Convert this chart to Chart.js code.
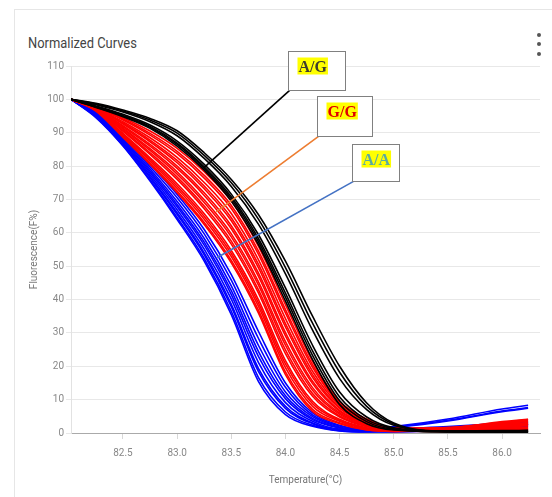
<!DOCTYPE html>
<html>
<head>
<meta charset="utf-8">
<script src="https://cdn.jsdelivr.net/npm/chart.js@4.4.1/dist/chart.umd.min.js"></script>
<style>
  body { margin: 0; background: #fff; width: 552px; height: 497px; overflow: hidden; position: relative; font-family: Roboto, "Open Sans", sans-serif; }
  .card { position: absolute; left: 14px; top: 9px; width: 560px; height: 510px; border: 1px solid #e6e6e6; box-sizing: border-box; }
  .title { position: absolute; left: 28px; top: 33px; font-size: 15px; line-height: 20px; color: #444; transform: scaleX(0.86); transform-origin: left center; white-space: nowrap; }
  .dot { position: absolute; left: 537px; width: 4px; height: 4px; border-radius: 2px; background: #555; }
  #chart { position: absolute; left: 0; top: 0; }
</style>
</head>
<body>
<div class="card"></div>
<div class="title">Normalized Curves</div>
<div class="dot" style="top:33px"></div>
<div class="dot" style="top:42px"></div>
<div class="dot" style="top:52px"></div>
<canvas id="chart" width="552" height="497"></canvas>
<script>
// temperature points shared by every curve
const temps = [82.02, 82.25, 82.5, 82.75, 83.0, 83.25, 83.5, 83.75, 84.0, 84.25, 84.5, 84.75, 85.0, 85.5, 86.0, 86.24];
const xTicks = [82.5, 83.0, 83.5, 84.0, 84.5, 85.0, 85.5, 86.0];

// A/A genotype
const blueCurves = [
  [100, 94.5, 86.0, 75.5, 64.0, 51.5, 35.5, 15.5, 5.5, 2.0, 0.6, 0.3, 0.3, 0.8, 1.6, 2.2],
  [100, 94.7, 86.2, 75.9, 64.6, 52.3, 36.5, 16.7, 6.3, 2.3, 0.7, 0.3, 0.5, 1.0, 2.0, 2.6],
  [100, 94.9, 86.6, 76.5, 65.5, 53.4, 37.9, 18.5, 7.4, 2.8, 0.9, 0.9, 1.6, 3.6, 6.4, 7.4],
  [100, 95.0, 86.8, 76.8, 66.0, 54.0, 38.6, 19.4, 8.0, 3.0, 1.0, 1.0, 1.7, 3.8, 6.6, 7.6],
  [100, 95.3, 87.1, 77.4, 66.9, 55.1, 40.1, 21.2, 9.1, 3.5, 1.2, 1.1, 1.9, 4.2, 7.2, 8.3],
  [100, 95.5, 87.5, 78.0, 67.8, 56.3, 41.5, 23.0, 10.3, 4.0, 1.5, 0.6, 1.0, 1.6, 2.6, 3.2],
  [100, 95.7, 87.8, 78.5, 68.5, 57.2, 42.7, 24.5, 11.2, 4.4, 1.6, 0.6, 1.2, 1.9, 2.9, 3.3],
  [100, 95.9, 88.2, 79.1, 69.4, 58.3, 44.1, 26.3, 12.3, 4.9, 1.8, 0.7, 0.6, 1.2, 2.2, 2.6],
  [100, 96.2, 88.6, 79.8, 70.5, 59.7, 45.8, 28.4, 13.7, 5.4, 2.1, 0.7, 0.5, 0.9, 1.6, 2.0],
  [100, 96.5, 89.0, 80.5, 71.5, 61.0, 47.5, 30.5, 15.0, 6.0, 2.3, 0.8, 0.5, 1.1, 2.1, 2.5]
];

// G/G genotype
const redCurves = [
  [100, 96.5, 88.6, 80.5, 72.0, 62.5, 51.0, 36.0, 17.5, 6.5, 2.8, 0.9, 0.5, 0.6, 1.0, 1.2],
  [100, 96.6, 88.8, 80.9, 72.5, 63.1, 51.7, 36.8, 18.3, 7.1, 3.1, 1.0, 0.5, 1.2, 2.4, 2.9],
  [100, 96.6, 89.2, 81.5, 73.3, 64.1, 52.9, 38.0, 19.6, 8.0, 3.5, 1.2, 0.6, 0.8, 1.4, 1.8],
  [100, 96.7, 89.5, 82.0, 74.0, 64.9, 53.8, 39.0, 20.7, 8.8, 3.8, 1.4, 0.7, 1.5, 3.0, 3.7],
  [100, 96.8, 89.8, 82.5, 74.7, 65.7, 54.7, 40.0, 21.7, 9.5, 4.1, 1.6, 0.7, 0.5, 0.8, 1.0],
  [100, 96.9, 90.4, 83.5, 76.0, 67.2, 56.6, 42.0, 23.8, 11.0, 4.8, 1.9, 0.8, 1.1, 2.2, 2.6],
  [100, 97.0, 90.7, 84.0, 76.7, 68.0, 57.5, 43.0, 24.9, 11.8, 5.1, 2.1, 0.9, 1.6, 3.2, 4.0],
  [100, 97.0, 91.1, 84.7, 77.6, 69.1, 58.8, 44.4, 26.3, 12.8, 5.6, 2.3, 0.9, 0.7, 1.1, 1.4],
  [100, 97.1, 91.4, 85.2, 78.3, 69.9, 59.7, 45.4, 27.4, 13.6, 6.0, 2.5, 1.0, 1.3, 2.6, 3.1],
  [100, 97.2, 91.8, 86.0, 79.3, 71.2, 61.2, 47.0, 29.1, 14.8, 6.5, 2.7, 1.1, 0.9, 1.7, 2.2],
  [100, 97.3, 92.1, 86.5, 80.0, 72.0, 62.1, 48.0, 30.1, 15.5, 6.8, 2.9, 1.1, 1.4, 2.8, 3.5],
  [100, 97.4, 92.6, 87.3, 81.0, 73.2, 63.6, 49.6, 31.8, 16.7, 7.4, 3.1, 1.2, 0.6, 0.9, 1.1],
  [100, 97.4, 92.9, 87.8, 81.7, 74.0, 64.5, 50.6, 32.8, 17.5, 7.7, 3.3, 1.2, 1.0, 1.9, 2.4],
  [100, 97.5, 93.3, 88.5, 82.6, 75.1, 65.8, 52.0, 34.3, 18.5, 8.2, 3.5, 1.3, 0.5, 0.7, 0.9],
  [100, 97.6, 93.8, 89.3, 83.7, 76.4, 67.3, 53.6, 36.0, 19.7, 8.7, 3.8, 1.4, 1.2, 2.3, 2.8],
  [100, 97.7, 94.1, 89.8, 84.4, 77.2, 68.2, 54.6, 37.0, 20.5, 9.1, 4.0, 1.4, 0.8, 1.3, 1.6],
  [100, 97.8, 94.5, 90.5, 85.3, 78.3, 69.5, 56.0, 38.5, 21.5, 9.5, 4.2, 1.5, 1.6, 3.4, 4.1]
];

// A/G genotype
const blackCurves = [
  [100, 97.6, 94.8, 91.3, 86.0, 78.8, 69.5, 56.5, 39.5, 22.0, 8.5, 2.8, 0.9, 0.4, 0.3, 0.3],
  [100, 97.7, 95.0, 91.6, 86.5, 79.3, 70.2, 57.4, 40.7, 23.3, 9.7, 3.4, 1.1, 0.5, 0.4, 0.4],
  [100, 97.8, 95.2, 91.9, 86.9, 79.8, 70.8, 58.3, 41.9, 24.6, 10.8, 4.0, 1.3, 0.3, 0.3, 0.3],
  [100, 98.0, 95.5, 92.3, 87.5, 80.5, 71.6, 59.5, 43.5, 26.3, 12.3, 4.8, 1.6, 0.6, 0.6, 0.7],
  [100, 98.4, 96.2, 93.3, 89.1, 82.3, 73.9, 62.6, 47.7, 30.8, 16.3, 7.0, 2.3, 0.5, 0.5, 0.5],
  [100, 98.6, 96.5, 93.8, 89.9, 83.2, 75.0, 64.1, 49.6, 32.9, 18.2, 8.0, 2.7, 0.4, 0.3, 0.4],
  [100, 98.8, 96.8, 94.3, 90.6, 84.0, 76.0, 65.5, 51.5, 35.0, 20.0, 9.0, 3.0, 0.6, 0.7, 0.8]
];

// callout labels (box top-left and arrow target in data units)
const callouts = [
  { text: 'A/G', color: '#3d3d2e', line: '#000000', box: [84.02, 114.4], w: 57, h: 39, target: [83.25, 79.6] },
  { text: 'G/G', color: '#e00000', line: '#ed7d31', box: [84.29, 101.0], w: 55, h: 40, target: [83.36, 66.3] },
  { text: 'A/A', color: '#5aaaa0', line: '#4472c4', box: [84.61, 86.5], w: 47, h: 37, target: [83.37, 52.6] }
];

function toPoints(vals) {
  return vals.map((v, i) => ({ x: temps[i], y: v }));
}

var datasets = [];
blueCurves.forEach(c => datasets.push({ data: toPoints(c), borderColor: '#0000ff', order: 3 }));
redCurves.forEach(c => datasets.push({ data: toPoints(c), borderColor: '#ff0000', order: 2 }));
blackCurves.forEach(c => datasets.push({ data: toPoints(c), borderColor: '#000000', order: 1 }));

const calloutPlugin = {
  id: 'callouts',
  afterDraw(chart) {
    const ctx = chart.ctx;
    const xs = chart.scales.x, ys = chart.scales.y;
    ctx.save();
    callouts.forEach(c => {
      const bx = xs.getPixelForValue(c.box[0]);
      const by = ys.getPixelForValue(c.box[1]);
      ctx.strokeStyle = c.line;
      ctx.lineWidth = 1.6;
      ctx.beginPath();
      ctx.moveTo(bx + 2, by + c.h);
      ctx.lineTo(xs.getPixelForValue(c.target[0]), ys.getPixelForValue(c.target[1]));
      ctx.stroke();
    });
    callouts.forEach(c => {
      const bx = Math.round(xs.getPixelForValue(c.box[0])) + 0.5;
      const by = Math.round(ys.getPixelForValue(c.box[1])) + 0.5;
      ctx.fillStyle = '#ffffff';
      ctx.fillRect(bx, by, c.w, c.h);
      ctx.strokeStyle = '#808080';
      ctx.lineWidth = 1;
      ctx.strokeRect(bx, by, c.w, c.h);
      ctx.font = 'bold 16px "Liberation Serif", "Times New Roman", serif';
      const tw = ctx.measureText(c.text).width;
      ctx.fillStyle = '#ffff00';
      ctx.fillRect(bx + 9, by + 6, tw + 2, 17);
      ctx.fillStyle = c.color;
      ctx.textBaseline = 'alphabetic';
      ctx.fillText(c.text, bx + 10, by + 20);
    });
    ctx.restore();
  }
};

const tickFont = { family: 'Roboto, "Open Sans", sans-serif', size: 10 };

new Chart(document.getElementById('chart').getContext('2d'), {
  type: 'line',
  data: { datasets: datasets },
  options: {
    responsive: false,
    animation: false,
    layout: { padding: { left: 0, top: 66, right: 12, bottom: 11 } },
    plugins: { legend: { display: false }, tooltip: { enabled: false } },
    elements: {
      point: { radius: 0 },
      line: { borderWidth: 1.6, cubicInterpolationMode: 'monotone', fill: false }
    },
    scales: {
      x: {
        type: 'linear',
        min: 82.02,
        max: 86.35,
        afterBuildTicks: s => { s.ticks = xTicks.map(v => ({ value: v })); },
        afterFit: s => { s.height = 53; },
        ticks: { callback: v => Number(v).toFixed(1), font: tickFont, color: '#888', padding: 8, maxRotation: 0 },
        grid: { drawOnChartArea: false, tickLength: 6, color: '#d8d8d8' },
        border: { color: '#aaaaaa' },
        title: { display: true, text: 'Temperature(°C)', font: tickFont, color: '#777', padding: 0 }
      },
      y: {
        min: 0,
        max: 110,
        afterFit: s => { s.width = 71; },
        ticks: { stepSize: 10, font: tickFont, color: '#888', padding: 2 },
        grid: { color: '#e8e8e8', tickLength: 5 },
        border: { color: '#e2e2e2' },
        title: { display: true, text: 'Fluorescence(F%)', font: tickFont, color: '#777', padding: { top: 28, bottom: 0 } }
      }
    }
  },
  plugins: [calloutPlugin]
});
</script>
</body>
</html>
